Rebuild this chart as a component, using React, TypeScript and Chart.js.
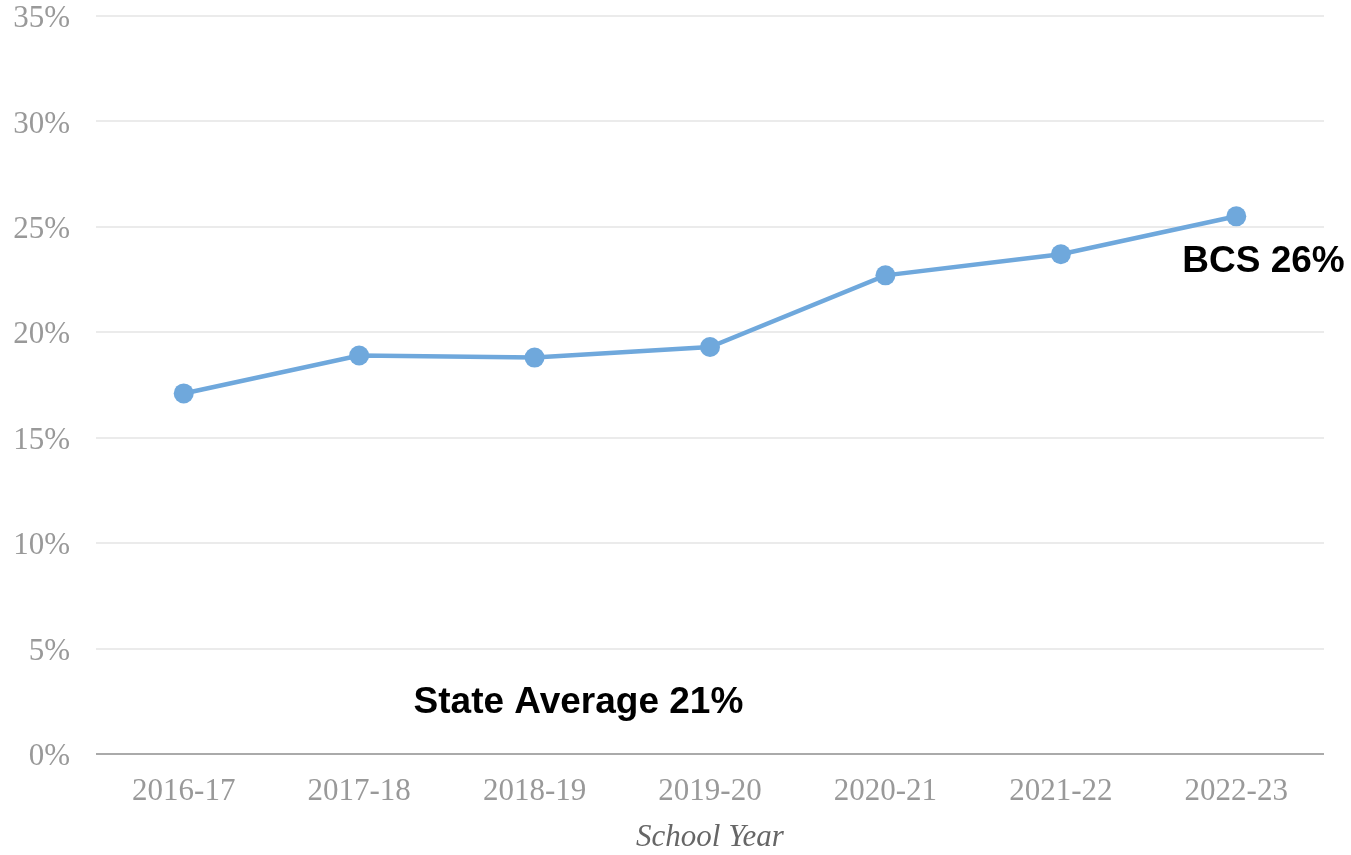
import React, { useEffect, useRef } from "react";
import { Chart, registerables } from "chart.js";

Chart.register(...registerables);

const schoolYears = ["2016-17", "2017-18", "2018-19", "2019-20", "2020-21", "2021-22", "2022-23"];
const bcsPercent = [17.1, 18.9, 18.8, 19.3, 22.7, 23.7, 25.5];
const yTicks = [0, 5, 10, 15, 20, 25, 30, 35];
const xAxisTitle = "School Year";
const annotationTexts = ["State Average 21%", "BCS 26%"];

const annotationPlugin = {
  id: "textAnnotations",
  afterDatasetsDraw(chart: any) {
    const { ctx, scales } = chart;
    const xs = scales.x;
    const ys = scales.y;
    const places = [
      { x: 2.25, y: 2.42 },
      { x: 6.155, y: 23.35 },
    ];
    ctx.save();
    ctx.fillStyle = "#000000";
    ctx.font = "bold 37px 'Liberation Sans', Arial, sans-serif";
    ctx.textAlign = "center";
    ctx.textBaseline = "middle";
    annotationTexts.forEach((t, i) => {
      const p = places[i];
      ctx.fillText(t, xs.getPixelForValue(p.x), ys.getPixelForValue(p.y));
    });
    ctx.restore();
  },
};

export default function App() {
  const ref = useRef<HTMLCanvasElement | null>(null);
  useEffect(() => {
    document.body.style.margin = "0";
    const chart = new Chart(ref.current as HTMLCanvasElement, {
      type: "line",
      data: {
        labels: schoolYears,
        datasets: [
          {
            data: bcsPercent,
            borderColor: "#6fa8dc",
            backgroundColor: "#6fa8dc",
            borderWidth: 4.5,
            pointRadius: 10,
            pointBorderWidth: 0,
            pointBackgroundColor: "#6fa8dc",
            tension: 0,
          },
        ],
      },
      options: {
        animation: false,
        responsive: false,
        maintainAspectRatio: false,
        layout: { padding: { top: 16, right: 27, bottom: 0, left: 0 } },
        plugins: { legend: { display: false }, tooltip: { enabled: false } },
        scales: {
          x: {
            offset: true,
            afterFit(scale: any) {
              scale.height = 101;
            },
            grid: { display: false, drawTicks: false },
            border: { display: false },
            ticks: {
              padding: 22,
              color: "#999999",
              font: { family: "'Liberation Serif', serif", size: 31, lineHeight: 1 },
              maxRotation: 0,
            },
            title: {
              display: true,
              text: xAxisTitle,
              color: "#666666",
              padding: { top: 17, bottom: 2 },
              font: { family: "'Liberation Serif', serif", size: 31, style: "italic", lineHeight: 1 },
            },
          },
          y: {
            min: 0,
            max: 35,
            afterFit(scale: any) {
              scale.width = 96;
              scale.paddingTop = 15;
              scale.paddingBottom = 15;
            },
            afterBuildTicks(scale: any) {
              scale.ticks = yTicks.map((v) => ({ value: v }));
            },
            grid: {
              drawTicks: false,
              lineWidth: 2,
              color: (c: any) => (c.tick && c.tick.value === 0 ? "#aaaaaa" : "#ebebeb"),
            },
            border: { display: false },
            ticks: {
              padding: 26,
              labelOffset: 3,
              color: "#999999",
              font: { family: "'Liberation Serif', serif", size: 31, lineHeight: 1 },
              callback: (v: any) => v + "%",
            },
          },
        },
      },
      plugins: [annotationPlugin],
    });
    return () => chart.destroy();
  }, []);
  return (
    <div style={{ position: "absolute", left: 0, top: 0, width: 1351, height: 855, background: "#fff" }}>
      <canvas ref={ref} width={1351} height={855} style={{ width: 1351, height: 855 }} />
    </div>
  );
}
